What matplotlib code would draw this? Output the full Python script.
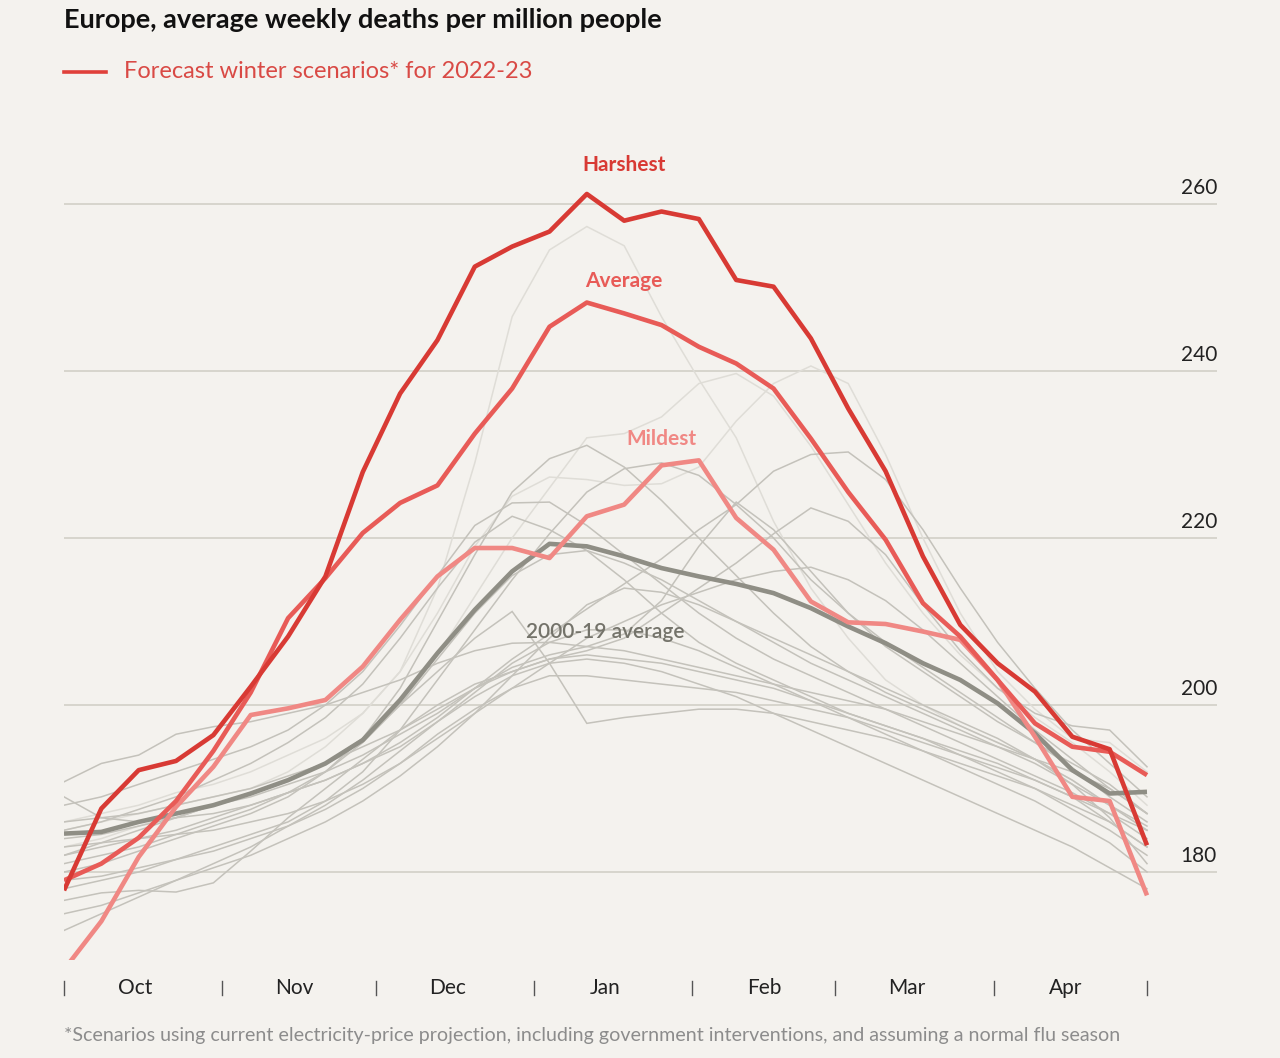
import numpy as np
import matplotlib
matplotlib.use("Agg")
import matplotlib.pyplot as plt
import matplotlib.transforms as mtransforms
from matplotlib.lines import Line2D

plt.rcParams['font.family'] = ['Lato', 'DejaVu Sans']

BG = '#f4f2ee'

# ---------------- data ----------------
n_weeks = 30
season_days = 212  # 1 Oct -> 30 Apr
month_labels = ['Oct', 'Nov', 'Dec', 'Jan', 'Feb', 'Mar', 'Apr']
month_label_days = [14, 45, 75, 106, 137, 165, 196]
month_bounds = [0, 31, 61, 92, 123, 151, 182, 212]
y_ticks = [180, 200, 220, 240, 260]

harshest = [177.8, 187.6, 192.2, 193.3, 196.4, 202.2, 208.2, 215.4, 227.9, 237.3,
            243.7, 252.5, 254.9, 256.7, 261.2, 258.0, 259.1, 258.2, 250.9, 250.1,
            243.9, 235.5, 228.0, 217.8, 209.6, 205.0, 201.6, 196.2, 194.7, 183.2]
average = [179.0, 181.0, 184.1, 188.5, 194.5, 201.5, 210.4, 215.2, 220.6, 224.2,
           226.3, 232.5, 237.9, 245.3, 248.2, 246.9, 245.5, 242.9, 240.9, 237.9,
           231.9, 225.5, 219.8, 212.2, 208.2, 203.0, 197.8, 195.0, 194.4, 191.6]
mildest = [168.3, 174.1, 181.8, 187.8, 192.6, 198.8, 199.6, 200.6, 204.6, 210.2,
           215.4, 218.8, 218.8, 217.6, 222.6, 224.0, 228.7, 229.3, 222.4, 218.6,
           212.4, 209.9, 209.7, 208.8, 207.8, 203.0, 196.2, 189.0, 188.5, 177.2]
avg_2000_19 = [184.6, 184.8, 186.0, 187.0, 188.0, 189.4, 191.0, 193.0, 195.8, 200.6,
               206.2, 211.4, 216.0, 219.3, 219.0, 217.8, 216.4, 215.4, 214.5, 213.4,
               211.6, 209.4, 207.4, 205.0, 203.0, 200.2, 196.6, 192.2, 189.4, 189.6]

# individual winters 2000-01 ... 2018-19 (light = strong flu seasons)
y01 = [186, 187, 188, 189.5, 190.5, 192, 194, 196, 199, 204, 214, 229, 246.5, 254.5, 257.3,
       255, 246.5, 239, 232, 222, 214, 208, 203, 200, 197.5, 195.5, 193.5, 191, 188, 185]
y02 = [183, 184, 185.5, 187, 188, 189.5, 191, 193, 196, 200, 206, 213, 220, 226, 232,
       232.5, 234.5, 238.5, 239.7, 237, 231, 224, 217, 211, 206, 202, 198.5, 195.5, 192, 188]
y03 = [185, 186, 187, 188, 189, 190, 192, 195, 199, 204, 211, 219, 225, 227.3, 227,
       226.3, 226.5, 228.5, 234, 238.5, 240.6, 238.5, 230, 220, 211, 204, 199.5, 196, 195.5, 192]
y04 = [180, 181, 182.5, 184, 185.5, 187, 189, 192, 196, 202, 210, 218, 225.5, 229.5, 231.1,
       228.5, 224.5, 220, 215.5, 211, 207, 204, 201.5, 199.5, 197.5, 195.5, 193.5, 191, 188, 185]
y05 = [178, 179, 180, 181.5, 183, 184.5, 186, 188.5, 192, 197, 203, 209, 215, 220.5, 225.5,
       228.3, 229, 227.5, 224, 220, 215, 211, 207.5, 204.5, 201.5, 198.5, 195.5, 192.5, 189, 186]
y06 = [182, 183, 184, 185, 186.5, 188, 189.5, 191, 193, 195.5, 198.5, 202, 205.5, 208.5, 211.5,
       214.5, 217.5, 221, 224, 228, 230, 230.3, 227, 221, 214, 207.5, 202, 197, 193, 189]
y07 = [184, 184.5, 185.5, 186.5, 188, 189, 190.5, 192, 194, 196.5, 199, 202, 204.5, 206, 207,
       208.5, 212.5, 219, 224.3, 221, 216, 211, 207, 204, 201, 198, 195.5, 193, 190.5, 187]
y08 = [186, 186.5, 187, 188, 189, 190, 191.5, 193, 195, 197, 199.5, 202, 204, 205.5, 206.5,
       208, 211, 214, 217, 220.5, 223.6, 222, 218, 212, 206.5, 202, 199, 197.5, 197, 192.6]
y09 = [188, 189, 190.5, 192, 193.5, 195, 197, 200, 204, 209.5, 215.5, 221.5, 224.2, 224.3, 221.5,
       218, 214.5, 211, 208, 205.5, 203.5, 201.5, 199.5, 197.5, 195.5, 193.5, 191.5, 189.5, 187, 184]
y10 = [185, 186, 187.5, 189, 191, 193, 195.5, 198.5, 202.5, 208, 214, 219.5, 222.6, 221, 218.5,
       215, 211, 207.5, 205, 203, 201, 199, 197.5, 196, 194, 192, 190, 187.5, 185, 182]
y11 = [190.8, 193, 194, 196.5, 197.4, 198, 199, 200, 201.5, 203, 205, 206.5, 207.4, 207.5, 207,
       206.5, 205.5, 204.5, 203.5, 202.5, 201.5, 200.5, 199.5, 198, 196.5, 195, 193.5, 192, 190, 187]
y12 = [182, 183.5, 185, 186.5, 188, 189.5, 191, 193, 196, 200, 204, 208, 211.2, 205, 197.8,
       198.5, 199, 199.5, 199.5, 199, 198, 197, 196, 194.5, 193, 191.5, 190, 188, 186, 183]
y13 = [176.6, 177.5, 177.8, 177.6, 178.7, 182.5, 186.5, 190, 193.5, 197, 200, 202.5, 204, 205.5, 206,
       205.5, 205, 204, 203, 202, 200.5, 199, 197.5, 196, 194.5, 193, 191, 189, 186, 183]
y14 = [179, 179.5, 180.5, 181.5, 182.5, 184, 185.5, 187.5, 190, 193, 196.5, 199.5, 202, 203.5, 203.5,
       203, 202.5, 202, 201.5, 200.5, 199.5, 198.5, 197, 195.5, 194, 192.5, 191, 189, 187, 185]
y15 = [183, 183.5, 184, 184.5, 185, 186, 187, 188.5, 190.5, 193, 196, 199, 202, 205, 208,
       210, 212, 213.5, 215, 216, 216.5, 215, 212.5, 209, 205, 201, 197, 193.5, 190, 187]
y16 = [181, 182, 183, 184.5, 186, 187.5, 189.5, 192, 195.5, 200, 205.5, 211, 215.5, 218, 218.5,
       217, 215, 212.5, 210, 207.5, 205, 203, 201, 199, 197, 195, 193, 190.5, 188, 185.5]
y17 = [173, 175, 177, 179, 180.5, 182, 184, 186, 188.5, 191.5, 195, 199, 203.5, 208, 212,
       214, 213.5, 212, 210, 208, 206, 204, 202, 200, 198, 196, 193.5, 190.5, 186.5, 181]
y18 = [189, 186.5, 186, 186.5, 187, 188, 189.5, 191, 193, 195, 198, 201.5, 205, 207.5, 209,
       209, 208, 206.5, 204.5, 202.5, 200.5, 198.5, 196.5, 194.5, 192.5, 190.5, 188.5, 186, 183.5, 180]
y19 = [175, 176, 177.5, 179, 181, 183, 185.5, 188, 191, 194.5, 198, 201, 203.5, 205, 205.5,
       205, 204, 202.5, 201, 199, 197, 195, 193, 191, 189, 187, 185, 183, 180.5, 178]

past_years = [y01, y02, y03, y04, y05, y06, y07, y08, y09, y10,
              y11, y12, y13, y14, y15, y16, y17, y18, y19]
light_years = {0, 1, 2}

# ---------------- styling ----------------
C_HARSH = '#d83a34'
C_AVG = '#e85b57'
C_MILD = '#f08884'
C_HIST = '#8f8e85'
C_GRAY = '#c4c2bb'
C_LIGHT = '#dfddd7'
C_GRID = '#cfcdc4'

W, H = 1280, 1058
fig = plt.figure(figsize=(W / 100, H / 100), dpi=100, facecolor=BG)

ax_left, ax_right, ax_top, ax_bot = 64, 1217, 140, 960
ax = fig.add_axes([ax_left / W, 1 - ax_bot / H, (ax_right - ax_left) / W, (ax_bot - ax_top) / H])
ax.set_facecolor(BG)
px_per_day = (1147 - 64) / season_days
px_per_unit = (872 - 204) / 80.0
ax.set_xlim(0, (ax_right - ax_left) / px_per_day)
ax.set_ylim(260 - (ax_bot - 204) / px_per_unit, 260 + (204 - ax_top) / px_per_unit)
for s in ax.spines.values():
    s.set_visible(False)

x = np.arange(n_weeks) * season_days / (n_weeks - 1)

for v in y_ticks:
    ax.axhline(v, color=C_GRID, lw=1.1, zorder=1)
ax.set_yticks([])
blend = mtransforms.blended_transform_factory(ax.transAxes, ax.transData)
for v in y_ticks:
    ax.annotate(str(v), xy=(1.0, v), xycoords=blend, xytext=(0, 4), textcoords='offset points',
                ha='right', va='bottom', fontsize=15, color='#222222')

for i, yr in enumerate(past_years):
    ax.plot(x, yr, color=C_LIGHT if i in light_years else C_GRAY, lw=1.1,
            zorder=2 if i in light_years else 3, solid_joinstyle='miter')

ax.plot(x, avg_2000_19, color=C_HIST, lw=3.3, zorder=5, solid_capstyle='butt')
ax.plot(x, mildest, color=C_MILD, lw=3.3, zorder=6, solid_capstyle='butt')
ax.plot(x, average, color=C_AVG, lw=3.3, zorder=7, solid_capstyle='butt')
ax.plot(x, harshest, color=C_HARSH, lw=3.3, zorder=8, solid_capstyle='butt')

# series labels
def data_from_px(px, py):
    return (px - 64) / px_per_day, 260 - (py - 204) / px_per_unit

for label, (px, py), col, wt in [('Harshest', (624, 165), C_HARSH, 'bold'),
                                 ('Average', (624, 281), C_AVG, 'bold'),
                                 ('Mildest', (661, 439), C_MILD, 'bold'),
                                 ('2000-19 average', (605, 632), '#74736a', 'semibold')]:
    dx, dy = data_from_px(px, py)
    ax.text(dx, dy, label, ha='center', va='center', fontsize=15,
            fontweight=wt, color=col, zorder=9)

# x axis: month labels and separators
ax.set_xticks(month_label_days)
ax.set_xticklabels(month_labels, fontsize=15, color='#222222')
ax.tick_params(axis='x', length=0, pad=13)
xblend = mtransforms.blended_transform_factory(ax.transData, ax.transAxes)
for b in month_bounds:
    ax.plot([b, b], [-(981 - ax_bot) / (ax_bot - ax_top), -(995 - ax_bot) / (ax_bot - ax_top)],
            transform=xblend, color='#555555', lw=1.0, clip_on=False)

# title, legend, footnote
fig.text(64 / W, 1 - 20 / H, 'Europe, average weekly deaths per million people',
         fontsize=19.5, fontweight='bold', color='#111111', va='center', ha='left')
fig.add_artist(Line2D([64 / W, 106 / W], [1 - 72 / H, 1 - 72 / H], color='#e0403a', lw=2.6))
fig.text(124 / W, 1 - 72 / H, 'Forecast winter scenarios* for 2022-23',
         fontsize=17, color='#d94a45', va='center', ha='left')
fig.text(64 / W, 1 - 1035 / H,
         '*Scenarios using current electricity-price projection, including government '
         'interventions, and assuming a normal flu season',
         fontsize=14.1, color='#8c8c8c', va='center', ha='left')

fig.savefig('out.png', dpi=100, facecolor=BG)
